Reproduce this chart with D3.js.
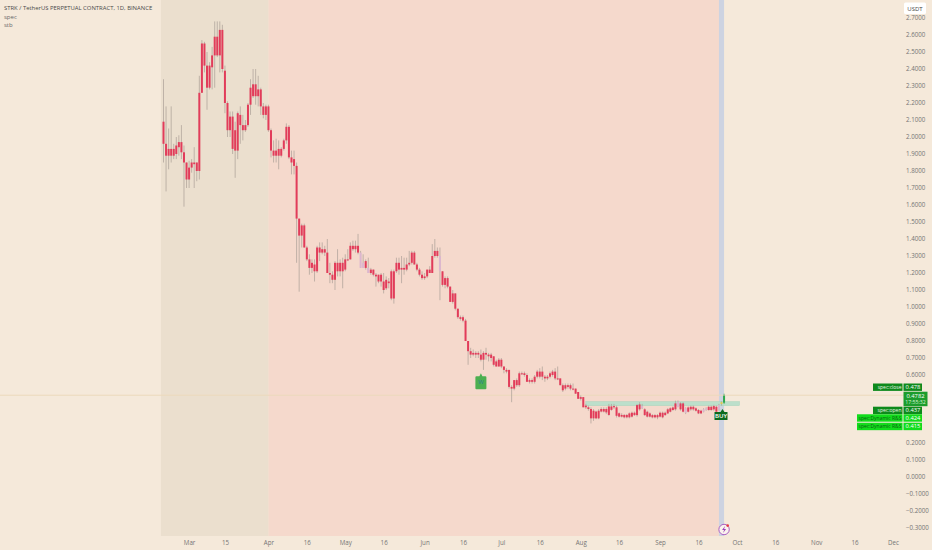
<!DOCTYPE html>
<html>
<head>
<meta charset="utf-8">
<script src="https://cdn.jsdelivr.net/npm/d3@7/dist/d3.min.js"></script>
<style>
html, body { margin: 0; padding: 0; background: #f5e9da; overflow: hidden; }
svg { display: block; font-family: "Open Sans", sans-serif; }
.axis path, .axis line { display: none; }
.axis text { fill: #747474; font-size: 6.2px; font-family: "Open Sans", sans-serif; }
</style>
</head>
<body>
<svg width="932" height="550"></svg>
<script>
var firstDay = new Date(Date.UTC(2024, 1, 20));

var opens = [
  2.09,1.96,1.93,1.93,1.93,1.95,1.97,1.97,1.91,1.85,
  1.82,1.85,1.85,1.85,2.26,2.55,2.55,2.42,2.42,2.48,
  2.59,2.59,2.63,2.63,2.39,2.20,2.12,2.12,2.04,2.14,
  2.13,2.07,2.07,2.19,2.29,2.31,2.31,2.28,2.28,2.18,
  2.18,2.18,2.04,1.92,1.92,1.93,1.93,1.98,2.06,2.06,
  1.88,1.87,1.83,1.52,1.48,1.48,1.35,1.28,1.26,1.25,
  1.35,1.35,1.34,1.34,1.32,1.20,1.19,1.26,1.26,1.26,
  1.26,1.28,1.28,1.36,1.36,1.36,1.36,1.32,1.26,1.27,
  1.23,1.22,1.22,1.19,1.19,1.19,1.15,1.16,1.15,1.21,
  1.21,1.26,1.26,1.23,1.23,1.25,1.26,1.32,1.32,1.25,
  1.22,1.19,1.18,1.22,1.22,1.30,1.33,1.33,1.30,1.21,
  1.17,1.17,1.12,1.08,1.08,.99,.94,.94,.92,.80,
  .74,.73,.73,.73,.72,.73,.73,.72,.72,.71,
  .68,.69,.69,.65,.63,.63,.53,.57,.57,.61,
  .61,.61,.60,.57,.57,.59,.62,.62,.62,.59,
  .59,.61,.62,.62,.58,.58,.54,.54,.54,.54,
  .52,.52,.50,.47,.47,.42,.41,.40,.39,.385,
  .39,.40,.40,.40,.415,.415,.417,.41,.375,.365,
  .365,.365,.374,.378,.378,.423,.427,.417,.398,.384,
  .374,.364,.364,.364,.378,.378,.378,.398,.404,.409,
  .433,.443,.433,.433,.404,.409,.413,.413,.404,.394,
  .39,.398,.404,.413,.413,.417,.413,.423,.44,.437
];
var closes = [
  1.96,1.89,1.89,1.89,1.89,1.90,1.94,1.91,1.85,1.75,
  1.75,1.82,1.84,1.80,1.80,2.26,2.42,2.29,2.29,2.41,
  2.48,2.48,2.48,2.40,2.20,2.04,2.04,1.93,1.92,1.92,
  2.07,2.04,2.04,2.07,2.19,2.24,2.24,2.24,2.18,2.13,
  2.13,2.04,1.92,1.89,1.89,1.89,1.89,1.93,1.98,1.88,
  1.85,1.83,1.52,1.42,1.42,1.35,1.28,1.23,1.23,1.21,
  1.21,1.32,1.32,1.32,1.20,1.19,1.16,1.16,1.21,1.21,
  1.21,1.22,1.28,1.28,1.34,1.34,1.32,1.23,1.23,1.23,
  1.20,1.20,1.19,1.18,1.15,1.15,1.10,1.11,1.14,1.05,
  1.05,1.21,1.22,1.22,1.22,1.22,1.25,1.26,1.25,1.22,
  1.19,1.17,1.17,1.18,1.20,1.20,1.30,1.30,1.21,1.13,
  1.13,1.12,1.03,1.03,.99,.94,.93,.92,.80,.74,
  .72,.72,.72,.72,.69,.69,.72,.71,.70,.66,
  .65,.65,.65,.63,.62,.53,.52,.52,.54,.54,
  .61,.60,.56,.56,.56,.56,.59,.59,.59,.58,
  .58,.59,.60,.58,.58,.54,.51,.52,.53,.52,
  .52,.49,.46,.46,.41,.41,.40,.345,.345,.345,
  .345,.385,.385,.38,.365,.395,.41,.36,.355,.355,
  .351,.351,.351,.355,.364,.364,.398,.404,.364,.355,
  .355,.351,.351,.351,.355,.351,.364,.374,.384,.394,
  .398,.413,.398,.384,.378,.384,.398,.398,.39,.374,
  .374,.384,.394,.394,.394,.398,.384,.398,.43,.478
];
var highs = [
  2.34,2.18,2.05,2.18,1.96,2.00,2.01,2.07,1.95,1.85,
  1.86,1.87,1.94,1.85,2.36,2.57,2.56,2.50,2.44,2.53,
  2.68,2.68,2.68,2.66,2.42,2.21,2.15,2.15,2.09,2.15,
  2.18,2.13,2.10,2.20,2.34,2.40,2.40,2.36,2.29,2.20,
  2.19,2.19,2.05,1.98,1.99,1.98,1.94,1.99,2.08,2.07,
  1.92,1.92,1.85,1.52,1.49,1.49,1.36,1.31,1.28,1.28,
  1.36,1.38,1.38,1.36,1.40,1.26,1.21,1.27,1.34,1.28,
  1.29,1.31,1.34,1.38,1.39,1.39,1.43,1.33,1.31,1.28,
  1.29,1.23,1.22,1.20,1.19,1.20,1.20,1.18,1.17,1.22,
  1.22,1.29,1.29,1.30,1.29,1.29,1.33,1.33,1.33,1.26,
  1.23,1.21,1.20,1.22,1.24,1.37,1.40,1.35,1.35,1.21,
  1.18,1.18,1.12,1.10,1.08,.99,.95,.95,.93,.80,
  .76,.75,.74,.74,.75,.74,.76,.73,.73,.71,
  .69,.70,.70,.65,.64,.63,.54,.57,.58,.62,
  .62,.62,.61,.58,.58,.60,.63,.64,.65,.60,
  .60,.62,.63,.64,.65,.58,.55,.55,.55,.55,
  .55,.52,.50,.48,.47,.43,.42,.41,.40,.39,
  .40,.41,.41,.41,.43,.43,.43,.42,.38,.375,
  .37,.37,.38,.385,.385,.43,.44,.43,.405,.39,
  .38,.37,.37,.37,.385,.385,.385,.405,.41,.415,
  .449,.45,.44,.44,.41,.415,.42,.42,.41,.40,
  .395,.405,.41,.42,.42,.425,.42,.43,.445,.49
];
var lows = [
  1.85,1.68,1.81,1.85,1.87,1.87,1.89,1.87,1.59,1.70,
  1.70,1.79,1.70,1.74,1.75,2.26,2.38,2.16,2.28,2.28,
  2.29,2.47,2.38,2.38,2.14,2.00,2.00,1.90,1.76,1.87,
  1.96,1.98,2.03,2.06,2.13,2.23,2.19,2.18,2.13,2.11,
  2.10,2.03,1.88,1.85,1.85,1.81,1.88,1.92,1.96,1.87,
  1.78,1.78,1.26,1.09,1.35,1.35,1.27,1.19,1.20,1.15,
  1.20,1.27,1.31,1.30,1.20,1.14,1.14,1.10,1.18,1.18,
  1.11,1.21,1.27,1.28,1.33,1.32,1.31,1.23,1.23,1.22,
  1.20,1.19,1.18,1.12,1.14,1.12,1.08,1.10,1.11,1.04,
  1.02,1.20,1.19,1.14,1.19,1.21,1.24,1.25,1.25,1.21,
  1.18,1.16,1.16,1.17,1.20,1.20,1.29,1.29,1.04,1.12,
  1.11,1.11,1.03,1.02,.98,.93,.92,.91,.80,.66,
  .70,.71,.70,.70,.68,.63,.69,.68,.68,.65,
  .65,.65,.64,.61,.61,.52,.44,.51,.53,.53,
  .60,.59,.56,.55,.55,.55,.58,.58,.57,.56,
  .57,.58,.59,.57,.57,.54,.50,.51,.52,.51,
  .51,.49,.46,.45,.41,.40,.39,.315,.33,.34,
  .34,.38,.38,.37,.36,.39,.40,.35,.35,.35,
  .345,.345,.345,.35,.36,.355,.39,.40,.36,.35,
  .35,.345,.345,.34,.35,.345,.36,.37,.38,.39,
  .39,.41,.39,.38,.37,.38,.39,.39,.385,.37,
  .37,.38,.39,.39,.39,.39,.38,.39,.42,.43
];
// candles the indicator paints another colour, by position
var fadedCandles = [77, 78, 80, 108, 187, 201, 204, 211, 212, 217];
var yellowCandles = [218];
var greenCandles = [219];

// 0.5, 0.4 and 0.3 sit behind the price tags in the original
var priceTicks = [2.7, 2.6, 2.5, 2.4, 2.3, 2.2, 2.1, 2.0, 1.9, 1.8, 1.7, 1.6, 1.5, 1.4, 1.3, 1.2, 1.1, 1.0,
  0.9, 0.8, 0.7, 0.6, 0.2, 0.1, 0, -0.1, -0.2, -0.3];
var timeTicks = [[2, 1, "Mar"], [2, 15, "15"], [3, 1, "Apr"], [3, 16, "16"], [4, 1, "May"], [4, 16, "16"],
  [5, 1, "Jun"], [5, 16, "16"], [6, 1, "Jul"], [6, 16, "16"], [7, 1, "Aug"], [7, 16, "16"],
  [8, 1, "Sep"], [8, 16, "16"], [9, 1, "Oct"], [9, 16, "16"], [10, 1, "Nov"], [10, 16, "16"], [11, 1, "Dec"]];

var lastPrice = 0.4782;
var zoneTop = 0.443, zoneBottom = 0.42;
var legendLines = ["STRK / TetherUS PERPETUAL CONTRACT, 1D, BINANCE", "spec", "stb"];
var priceTags = [
  { name: "spec:close", value: "0.478", price: 0.55, fill: "#0e8a1c", nameX: 873, textFill: "#e8f5e8" },
  { name: "spec:open", value: "0.437", price: 0.4135, fill: "#0e8a1c", nameX: 873, textFill: "#e8f5e8" },
  { name: "spec:Dynamic R&S", value: "0.424", price: 0.369, fill: "#12dc1c", nameX: 857, textFill: "#0b5c12" },
  { name: "spec:Dynamic R&S", value: "0.415", price: 0.319, fill: "#12dc1c", nameX: 857, textFill: "#0b5c12" }
];

var svg = d3.select("svg");
var bottom = 536;

var dayOf = function (i) { return d3.utcDay.offset(firstDay, i); };
var x = d3.scaleUtc().domain([firstDay, new Date(Date.UTC(2024, 11, 1))]).range([163.5, 893]);
var y = d3.scaleLinear().domain([0, 1]).range([477, 307]);

// background sessions
var sessions = [
  { from: -0.2, to: 41, fill: "#ebdfce" },
  { from: 41, to: 217.3, fill: "#f5d9cc" },
  { from: 217.3, to: 219.3, fill: "#cdd3e1" }
];
svg.selectAll(".session").data(sessions).enter().append("rect")
  .attr("class", "session")
  .attr("x", function (d) { return x(dayOf(d.from)); })
  .attr("y", 0)
  .attr("width", function (d) { return x(dayOf(d.to)) - x(dayOf(d.from)); })
  .attr("height", bottom)
  .attr("fill", function (d) { return d.fill; });

// last price line
svg.append("line")
  .attr("x1", 0).attr("x2", 905)
  .attr("y1", y(lastPrice) - 0.5).attr("y2", y(lastPrice) - 0.5)
  .attr("stroke", "#ecd9bb").attr("stroke-width", 1);

// support zone
svg.append("rect")
  .attr("x", x(dayOf(165)))
  .attr("y", y(zoneTop))
  .attr("width", x(dayOf(225)) - x(dayOf(165)))
  .attr("height", y(zoneBottom) - y(zoneTop))
  .attr("fill", "#bcdfcb")
  .attr("stroke", "#a5d3bb")
  .attr("stroke-width", 0.5);

// candles
var candleFill = function (i) {
  if (greenCandles.indexOf(i) >= 0) return "#2fa84f";
  if (yellowCandles.indexOf(i) >= 0) return "#e8c84a";
  if (fadedCandles.indexOf(i) >= 0) return "#dcb6cf";
  return "#e23c5a";
};
var candle = svg.selectAll(".candle").data(opens).enter().append("g").attr("class", "candle");
candle.append("line")
  .attr("x1", function (d, i) { return x(dayOf(i)); })
  .attr("x2", function (d, i) { return x(dayOf(i)); })
  .attr("y1", function (d, i) { return y(highs[i]); })
  .attr("y2", function (d, i) { return y(lows[i]); })
  .attr("stroke", function (d, i) { return greenCandles.indexOf(i) >= 0 ? "#2fa84f" : "#ab9f97"; })
  .attr("stroke-width", 0.7);
candle.append("rect")
  .attr("x", function (d, i) { return x(dayOf(i)) - 1; })
  .attr("width", 2)
  .attr("y", function (d, i) { return y(Math.max(opens[i], closes[i])); })
  .attr("height", function (d, i) { return Math.max(1, Math.abs(y(opens[i]) - y(closes[i]))); })
  .attr("fill", function (d, i) { return candleFill(i); });

// W marker under candle 124
var w = svg.append("g").attr("transform", "translate(" + x(dayOf(124)) + "," + y(0.61) + ")");
w.append("path").attr("d", "M-4.5,3 L-1.5,3 L0,0 L1.5,3 L4.5,3 Q5.5,3 5.5,4 L5.5,15 Q5.5,16 4.5,16 L-4.5,16 Q-5.5,16 -5.5,15 L-5.5,4 Q-5.5,3 -4.5,3 Z")
  .attr("fill", "#4caf50");
w.append("text").attr("y", 11).attr("text-anchor", "middle")
  .attr("font-size", 6).attr("fill", "#2a7f8f").text("W");

// BUY label
var buy = svg.append("g").attr("transform", "translate(" + x(dayOf(218)) + "," + y(0.40) + ")");
buy.append("path").attr("d", "M-7,3 L-1,3 L1,0 L3,3 L6,3 L6,11 L-7,11 Z").attr("fill", "#0b6a1e");
buy.append("text").attr("x", -0.5).attr("y", 9.3).attr("text-anchor", "middle")
  .attr("font-size", 6).attr("font-weight", 600).attr("fill", "#fff").text("BUY");

// axes
svg.append("g").attr("class", "axis")
  .attr("transform", "translate(901,0)")
  .call(d3.axisRight(y).tickValues(priceTicks).tickFormat(function (d) {
    return d3.format(".4f")(d).replace("-", "\u2212");
  }).tickSize(0).tickPadding(5));

var tickDates = timeTicks.map(function (t) { return new Date(Date.UTC(2024, t[0], t[1])); });
svg.append("g").attr("class", "axis")
  .attr("transform", "translate(0," + (bottom + 5) + ")")
  .call(d3.axisBottom(x).tickValues(tickDates).tickFormat(function (d, i) { return timeTicks[i][2]; })
    .tickSize(0).tickPadding(0));

// USDT button
svg.append("rect").attr("x", 904).attr("y", 2.5).attr("width", 22).attr("height", 11.5).attr("rx", 1.5).attr("fill", "#fff");
svg.append("text").attr("x", 915).attr("y", 10.6).attr("text-anchor", "middle")
  .attr("font-size", 6).attr("fill", "#444").text("USDT");

// price tags
priceTags.forEach(function (t) {
  var top = y(t.price);
  svg.append("rect").attr("x", t.nameX).attr("y", top).attr("width", 902.5 - t.nameX).attr("height", 7.4).attr("fill", t.fill);
  svg.append("rect").attr("x", 903.5).attr("y", top).attr("width", 18.5).attr("height", 7.4).attr("fill", t.fill);
  svg.append("text").attr("x", 901.5).attr("y", top + 5.4).attr("text-anchor", "end")
    .attr("font-size", 5).attr("fill", t.textFill).text(t.name);
  svg.append("text").attr("x", 913).attr("y", top + 5.6).attr("text-anchor", "middle")
    .attr("font-size", 5.8).attr("fill", "#fff").text(t.value);
});
svg.append("rect").attr("x", 903.5).attr("y", y(lastPrice) - 4).attr("width", 24).attr("height", 14.5).attr("fill", "#1c9c2c");
svg.append("text").attr("x", 915.5).attr("y", y(lastPrice) + 2.2).attr("text-anchor", "middle")
  .attr("font-size", 5.8).attr("fill", "#fff").text("0.4782");
svg.append("text").attr("x", 915.5).attr("y", y(lastPrice) + 8.6).attr("text-anchor", "middle")
  .attr("font-size", 5.2).attr("fill", "#d8f2d8").text("17:55:32");

// lightning badge at the bottom of the last candle
var badge = svg.append("g").attr("transform", "translate(" + x(dayOf(219)) + "," + y(-0.3) + ")");
badge.append("circle").attr("cy", 1.5).attr("r", 5.2).attr("fill", "#fbf3ee").attr("stroke", "#a24fbe").attr("stroke-width", 0.9);
badge.append("path").attr("d", "M1,-2 L-2,2 L0,2 L-1,5 L2,1 L0,1 Z").attr("fill", "#9a3fb8");
badge.append("circle").attr("cx", 3.6).attr("cy", -2.4).attr("r", 1.3).attr("fill", "#e53945");

// legend
svg.selectAll(".legend").data(legendLines).enter().append("text")
  .attr("class", "legend")
  .attr("x", 4)
  .attr("y", function (d, i) { return 10 + i * 8.6; })
  .attr("font-size", function (d, i) { return i === 0 ? 5.9 : 6; })
  .attr("fill", function (d, i) { return i === 0 ? "#4a4a4a" : "#666"; })
  .text(function (d) { return d; });
</script>
</body>
</html>
